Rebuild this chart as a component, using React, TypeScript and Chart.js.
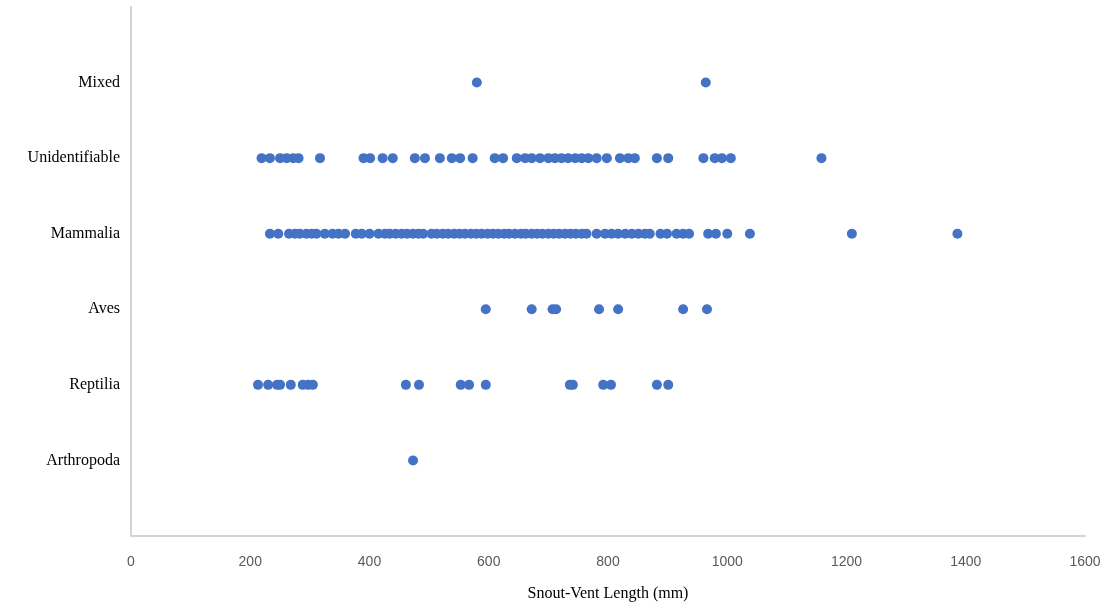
import React, { useEffect, useRef } from "react";
import { Chart, registerables } from "chart.js";

Chart.register(...registerables);

const categories = ["Arthropoda", "Reptilia", "Aves", "Mammalia", "Unidentifiable", "Mixed"];

const arthropoda = [473];
const reptilia = [213, 230, 245, 250, 268, 288, 297, 305, 461, 483, 553, 567, 595, 736, 741, 792, 805, 882, 901];
const aves = [595, 672, 707, 713, 785, 817, 926, 966];
const mammalia = [
  233, 247, 265, 275, 283, 294, 303, 311, 325, 338, 348, 359, 377, 387, 400, 415, 426, 434, 444, 454,
  463, 473, 482, 490, 504, 513, 523, 532, 542, 551, 560, 570, 579, 588, 598, 607, 616, 626, 634, 644,
  654, 662, 672, 681, 690, 700, 709, 718, 728, 737, 746, 756, 764, 781, 795, 806, 817, 829, 840, 851,
  862, 870, 888, 899, 915, 926, 936, 968, 981, 1000, 1038, 1209, 1386,
];
const unidentifiable = [
  219, 233, 250, 261, 272, 281, 317, 390, 401, 422, 439, 476, 493, 518, 538, 552, 573, 610, 624, 647,
  661, 672, 686, 700, 711, 722, 733, 745, 756, 767, 781, 798, 820, 834, 845, 882, 901, 960, 979, 991,
  1006, 1158,
];
const mixed = [580, 964];

const seriesByCategory = [arthropoda, reptilia, aves, mammalia, unidentifiable, mixed];

const xTicks = [0, 200, 400, 600, 800, 1000, 1200, 1400, 1600];

export default function App() {
  const canvasRef = useRef<HTMLCanvasElement | null>(null);

  useEffect(() => {
    if (!canvasRef.current) return;
    const points: { x: number; y: number }[] = [];
    seriesByCategory.forEach((vals, i) => {
      vals.forEach((v) => points.push({ x: v, y: i + 1 }));
    });

    const chart = new Chart(canvasRef.current, {
      type: "scatter",
      data: {
        datasets: [
          {
            label: "Prey",
            data: points,
            backgroundColor: "#4472C4",
            borderColor: "#4472C4",
            borderWidth: 0,
            pointRadius: 5,
            pointHoverRadius: 5,
          },
        ],
      },
      options: {
        animation: false,
        responsive: false,
        maintainAspectRatio: false,
        layout: { padding: { top: 7, right: 20, left: 0, bottom: 0 } },
        plugins: {
          legend: { display: false },
          tooltip: { enabled: false },
        },
        scales: {
          x: {
            type: "linear",
            min: 0,
            max: 1600,
            afterBuildTicks: (scale: any) => {
              scale.ticks = xTicks.map((v) => ({ value: v }));
            },
            afterFit: (scale: any) => {
              scale.height = 68;
              scale.paddingLeft = 0;
              scale.paddingRight = 0;
            },
            grid: { display: false, drawTicks: false },
            border: { display: true, color: "#d4d4d4", width: 2 },
            ticks: {
              padding: 18,
              color: "#595959",
              font: { family: "'Liberation Sans Narrow', 'Liberation Sans', sans-serif", size: 14 },
              callback: (value: any) => String(value),
            },
            title: {
              display: true,
              text: "Snout-Vent Length (mm)",
              color: "#000000",
              font: { family: "'Liberation Serif', 'Times New Roman', serif", size: 16 },
              padding: { top: 4, bottom: 1 },
            },
          },
          y: {
            type: "linear",
            min: 0,
            max: 7,
            afterBuildTicks: (scale: any) => {
              scale.ticks = categories.map((_, i) => ({ value: i + 1 }));
            },
            afterFit: (scale: any) => {
              scale.width = 131;
              scale.paddingTop = 0;
              scale.paddingBottom = 0;
            },
            grid: { display: false, drawTicks: false },
            border: { display: true, color: "#d4d4d4", width: 2 },
            ticks: {
              padding: 11,
              color: "#000000",
              font: { family: "'Liberation Serif', 'Times New Roman', serif", size: 16 },
              callback: (value: any) => {
                const idx = Math.round(Number(value)) - 1;
                return categories[idx] ?? "";
              },
            },
          },
        },
      },
    });
    return () => chart.destroy();
  }, []);

  return (
    <div style={{ position: "fixed", left: 0, top: 0, width: 1105, height: 604, background: "#ffffff" }}>
      <canvas ref={canvasRef} width={1105} height={604} style={{ width: 1105, height: 604 }} />
    </div>
  );
}
